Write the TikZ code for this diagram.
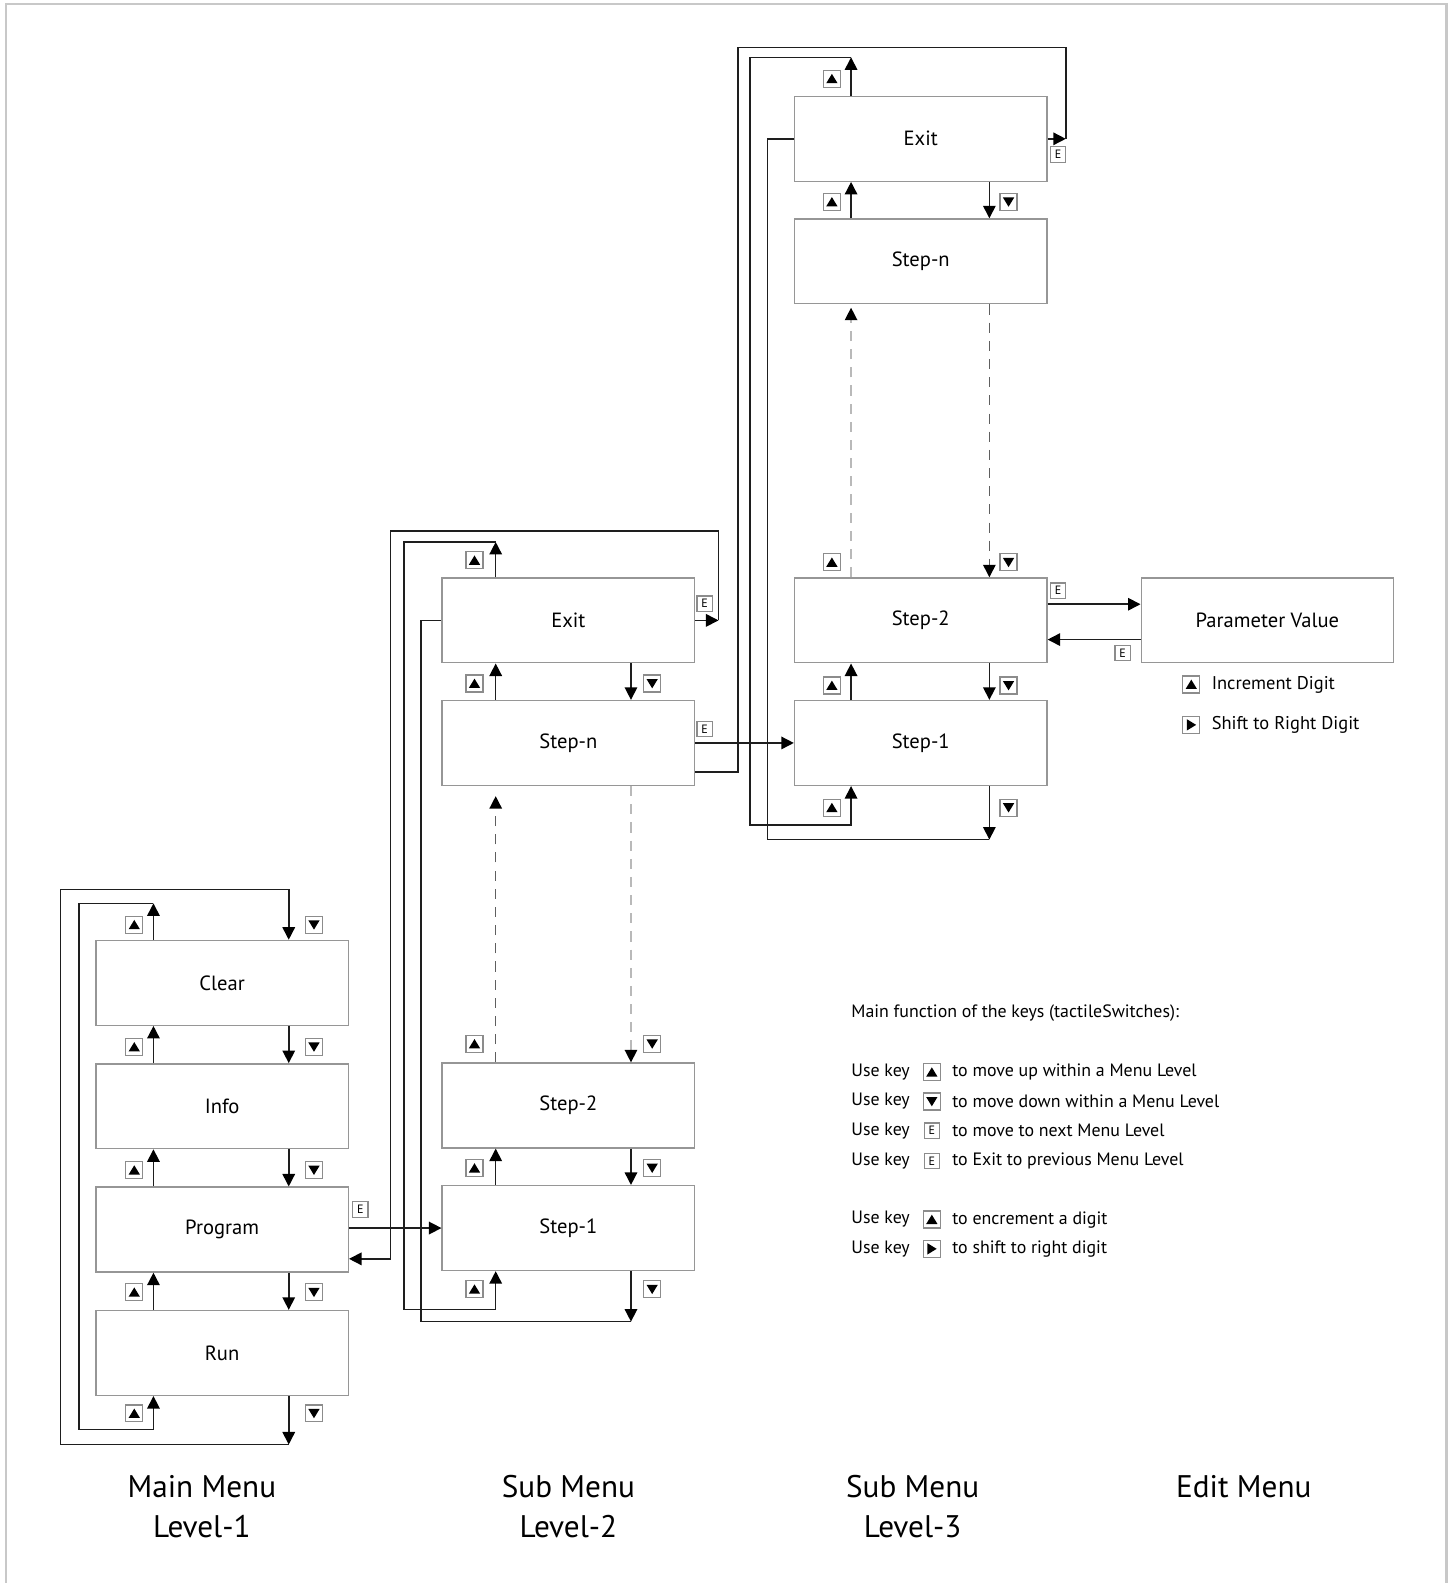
\documentclass[tikz,border=0pt]{standalone}
\usepackage{fontspec}
\setmainfont{PT Sans}
\usetikzlibrary{arrows.meta, positioning, calc}
\definecolor{boxgray}{RGB}{150,150,150}
\definecolor{keygray}{RGB}{140,140,140}
\definecolor{linedark}{RGB}{30,30,30}
\definecolor{dashdark}{RGB}{95,95,95}
\definecolor{dashlight}{RGB}{185,185,185}
\definecolor{framegray}{RGB}{200,200,200}

\tikzset{
  menu/.style={draw=boxgray, line width=0.35mm, minimum width=62.5mm, minimum height=21mm,
               font=\fontsize{14.5}{17}\selectfont},
  link/.style={draw=linedark, line width=0.38mm},
  tip/.style={-{Triangle[length=3.1mm, width=3.1mm, black]}},
  dashgap/.style={line width=0.35mm, dash pattern=on 2.5mm off 2mm},
  keybox/.style={draw=keygray, line width=0.3mm, fill=white, minimum size=4.2mm, inner sep=0pt},
  ukey/.style={keybox, path picture={\fill[black] ($(path picture bounding box.center)+(-1.4mm,-1.1mm)$)
               -- ++(2.8mm,0) -- ++(-1.4mm,2.3mm) -- cycle;}},
  dkey/.style={keybox, path picture={\fill[black] ($(path picture bounding box.center)+(-1.4mm,1.1mm)$)
               -- ++(2.8mm,0) -- ++(-1.4mm,-2.3mm) -- cycle;}},
  rkey/.style={keybox, path picture={\fill[black] ($(path picture bounding box.center)+(-1.1mm,-1.4mm)$)
               -- ++(0,2.8mm) -- ++(2.3mm,-1.4mm) -- cycle;}},
  ekey/.style={keybox, minimum size=3.8mm, font=\fontsize{8.5}{9}\selectfont},
  legend/.style={font=\fontsize{12.6}{14}\selectfont, inner sep=0pt},
  colhead/.style={font=\fontsize{22}{28}\selectfont, align=center}
}

\begin{document}
\begin{tikzpicture}[x=0.25mm, y=-0.25mm]
  \useasboundingbox (0,0) rectangle (1438,1568);
  \draw[framegray, line width=0.7mm] (6,1580) |- (1433,4) -- (1433,1580);

  % Level 1
  \node[menu] (clear) at (220,973.5) {Clear};
  \node[menu, below=9.2mm of clear] (info) {Info};
  \node[menu, below=9.2mm of info] (program) {Program};
  \node[menu, below=9.2mm of program] (run) {Run};
  % Level 2
  \node[menu] (exit2) at (563,614.5) {Exit};
  \node[menu, below=9mm of exit2] (stepn2) {Step-n};
  \node[menu] (step2b) at (563,1095) {Step-2};
  \node[menu, below=9mm of step2b] (step1b) {Step-1};
  % Level 3
  \node[menu] (exit3) at (912,137.5) {Exit};
  \node[menu, below=9mm of exit3] (stepn3) {Step-n};
  \node[menu] (step2c) at (912,614.5) {Step-2};
  \node[menu, below=9mm of step2c] (step1c) {Step-1};
  % Edit
  \node[menu, right=23mm of step2c] (param) {Parameter Value};

  % lanes for the up / down arrows
  \coordinate (u1) at (152,0);
  \coordinate (d1) at (286,0);
  \coordinate (u2) at (491,0);
  \coordinate (d2) at (625,0);
  \coordinate (u3) at (843,0);
  \coordinate (d3) at (980,0);

  \foreach \a/\b/\u/\d in {clear/info/u1/d1, info/program/u1/d1, program/run/u1/d1,
                           exit2/stepn2/u2/d2, step2b/step1b/u2/d2,
                           exit3/stepn3/u3/d3, step2c/step1c/u3/d3}{
    \draw[link, tip] (\b.north -| \u) -- (\a.south -| \u);
    \draw[link, tip] (\a.south -| \d) -- (\b.north -| \d);
  }

  % dashed gaps
  \draw[dashdark, dashgap, tip, shorten >=2.5mm] (step2b.north -| u2) -- (stepn2.south -| u2);
  \draw[dashlight, dashgap, tip] (stepn2.south -| d2) -- (step2b.north -| d2);
  \draw[dashlight, dashgap, tip, shorten >=0.8mm] (step2c.north -| u3) -- (stepn3.south -| u3);
  \draw[dashdark, dashgap, tip] (stepn3.south -| d3) -- (step2c.north -| d3);

  % Level 1 loops
  \draw[link, tip] (clear.north -| u1) -- ++(0,-36) coordinate (t1);
  \draw[link, tip] (t1) -| (78,1416) -| (run.south -| u1);
  \draw[link, tip] (run.south -| d1) -- ++(0,48) coordinate (b1);
  \draw[link, tip] (b1) -| (60,881) -| (clear.north -| d1);

  % Level 1 <-> Level 2
  \draw[link, tip] (program.east |- step1b.west) -- (step1b.west);
  \draw[link, tip] (exit2.east) -- ++(23,0) coordinate (x2);
  \draw[link, tip] (x2) |- (387,526) |- ($(program.east)+(0,29)$);

  % Level 2 loops
  \draw[link, tip] (exit2.north -| u2) -- ++(0,-35) coordinate (t2);
  \draw[link, tip] (t2) -| (400,1297) -| (step1b.south -| u2);
  \draw[link, tip] (step1b.south -| d2) -- ++(0,50) coordinate (b2);
  \draw[link] (b2) -| (417,614.5) -- (exit2.west);

  % Level 2 <-> Level 3
  \draw[link, tip] (stepn2.east) -- (step1c.west);
  \draw[link, tip] (exit3.east) -- ++(18,0) coordinate (x3);
  \draw[link] (x3) |- (731,47) |- ($(stepn2.east)+(0,29)$);

  % Level 3 loops
  \draw[link, tip] (exit3.north -| u3) -- ++(0,-38) coordinate (t3);
  \draw[link, tip] (t3) -| (743,817) -| (step1c.south -| u3);
  \draw[link, tip] (step1c.south -| d3) -- ++(0,53) coordinate (b3);
  \draw[link] (b3) -| (760,137.5) -- (exit3.west);

  % Level 3 <-> Edit
  \draw[link, tip] ($(step2c.east)+(0,-16)$) -- ($(param.west)+(0,-16)$);
  \draw[link, tip] ($(param.west)+(0,19)$) -- ($(step2c.east)+(0,19)$);

  % key icons
  \foreach \x/\y/\k [count=\i] in {133/916/ukey, 311/916/dkey, 133/1037/ukey, 311/1037/dkey,
      133/1159/ukey, 311/1159/dkey, 133/1280/ukey, 311/1280/dkey, 133/1400/ukey, 311/1400/dkey,
      470/555/ukey, 470/677/ukey, 646/677/dkey, 470/1034/ukey, 646/1034/dkey,
      470/1157/ukey, 646/1157/dkey, 470/1277/ukey, 646/1277/dkey,
      824/78/ukey, 824/200/ukey, 999/200/dkey, 824/557/ukey, 999/557/dkey,
      824/679/ukey, 999/679/dkey, 824/800/ukey, 999/800/dkey,
      1180/678/ukey, 1180/718/rkey}
    \node[\k] (key\i) at (\x,\y) {};
  \foreach \x/\y [count=\i] in {357/1198, 698/598, 698/722, 1048/153, 1048/585, 1112/647}
    \node[ekey] (ek\i) at (\x,\y) {E};

  \node[legend, anchor=west, font=\fontsize{13}{15}\selectfont] (incdig) at (1200,678) {Increment Digit};
  \node[legend, anchor=west, font=\fontsize{13}{15}\selectfont] (shiftdig) at (1200,718) {Shift to Right Digit};

  % legend
  \node[legend, anchor=west] (keyhead) at (843,1003) {Main function of the keys (tactileSwitches):};
  \foreach \y/\k/\e/\t [count=\i] in {1062/ukey/{}/to move up within a Menu Level,
      1091/dkey/{}/to move down within a Menu Level, 1120/ekey/E/to move to next Menu Level,
      1150/ekey/E/to Exit to previous Menu Level, 1208/ukey/{}/to encrement a digit,
      1237/rkey/{}/to shift to right digit}{
    \node[legend, anchor=west] (use\i) at (843,\y) {Use key};
    \node[\k] (lk\i) at (923,\y) {\e};
    \node[legend, anchor=west] (does\i) at (943,\y) {\t};
  }

  % column headings
  \node[colhead] (lv1) at (200,1492) {Main Menu\\Level-1};
  \node[colhead] (lv2) at (563,1492) {Sub Menu\\Level-2};
  \node[colhead] (lv3) at (904,1492) {Sub Menu\\Level-3};
  \node[colhead] (lv4) at (1232,1473) {Edit Menu};
\end{tikzpicture}
\end{document}
